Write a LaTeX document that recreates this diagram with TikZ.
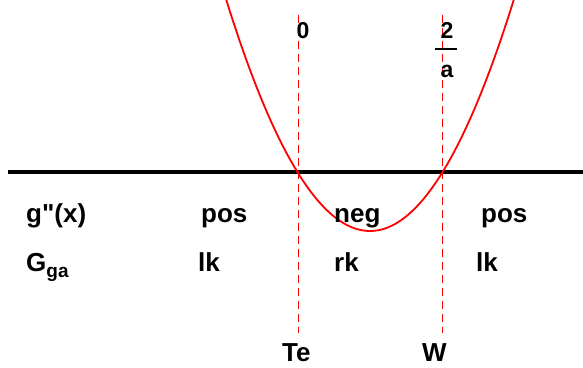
\documentclass[tikz,border=0pt]{standalone}
\usepackage{fontspec}
\setmainfont{Liberation Sans}[Ligatures=TeXOff]
\usetikzlibrary{positioning}
\definecolor{curvered}{RGB}{255,0,0}

\begin{document}
\begin{tikzpicture}[x=1pt,y=-1pt,
  lbl/.style={font=\fontsize{26}{30}\selectfont\bfseries, inner sep=0pt, anchor=base west},
  toplbl/.style={font=\fontsize{23}{27}\selectfont\bfseries, inner sep=0pt, anchor=base},
  guide/.style={curvered, line width=1pt, dash pattern=on 8pt off 5pt}]
  \useasboundingbox (0,0) rectangle (583,367);
  % axis
  \coordinate (axl) at (8,172);
  \coordinate (axr) at (583,172);
  \draw[line width=4pt] (axl) -- (axr);
  % guides through the two roots
  \coordinate (zt) at (298,15);
  \coordinate (zb) at (298,333);
  \coordinate (wt) at (442,15);
  \coordinate (wb) at (442,333);
  \draw[guide] (zt) -- (zb);
  \draw[guide] (wt) -- (wb);
  % curve
  \begin{scope}
    \clip (0,0) rectangle (583,367);
    \draw[curvered, line width=1.8pt, domain=224:516, samples=90]
      plot (\x, {173+58*(1-((\x-370)/72)^2)});
  \end{scope}
  % roots
  \node[toplbl] (zero) at (303,38) {0};
  \node[fill=black, minimum width=22pt, minimum height=2pt, inner sep=0pt] (bar) at (446,49) {};
  \node[toplbl] (two) at (447,38) {2};
  \node[toplbl] (ainv) at (447,77) {a};
  % sign row
  \node[lbl] (gpp) at (26,222) {g"(x)};
  \node[lbl] (posl) at (201,222) {pos};
  \node[lbl] (negm) at (334,222) {neg};
  \node[lbl] (posr) at (481,222) {pos};
  % curvature row
  \node[lbl] (gga) at (26,271) {G\raisebox{-6pt}{\fontsize{19}{19}\selectfont ga}};
  \node[lbl] (lkl) at (198,271) {lk};
  \node[lbl] (rkm) at (334,271) {rk};
  \node[lbl] (lkr) at (476,271) {lk};
  % names below
  \node[lbl, text depth=0pt] (te) at (282,361) {Te};
  \node[lbl, text depth=0pt] (w) at (422,361) {W};
\end{tikzpicture}
\end{document}
